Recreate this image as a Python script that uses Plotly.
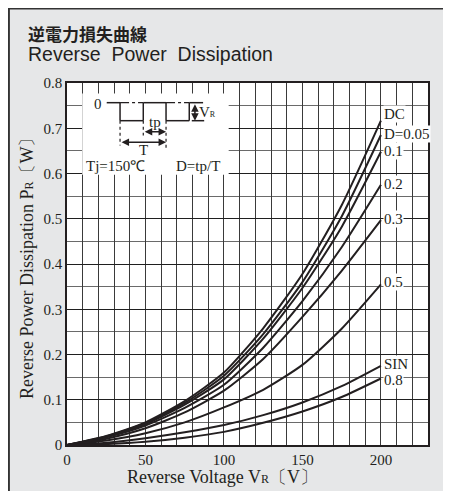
import plotly.graph_objects as go

# ---- data ----
voltage = [0, 25, 50, 75, 100, 125, 150, 175, 200]
p_dc   = [0, 0.020, 0.050, 0.097, 0.160, 0.258, 0.378, 0.530, 0.717]
p_d005 = [0, 0.019, 0.048, 0.093, 0.153, 0.245, 0.360, 0.505, 0.685]
p_d01  = [0, 0.018, 0.046, 0.089, 0.145, 0.235, 0.347, 0.482, 0.648]
p_d02  = [0, 0.017, 0.043, 0.082, 0.133, 0.215, 0.318, 0.437, 0.575]
p_d03  = [0, 0.014, 0.037, 0.072, 0.120, 0.190, 0.283, 0.385, 0.497]
p_d05  = [0, 0.010, 0.026, 0.050, 0.083, 0.122, 0.177, 0.257, 0.355]
p_sin  = [0, 0.005, 0.015, 0.028, 0.044, 0.066, 0.094, 0.130, 0.175]
p_d08  = [0, 0.002, 0.007, 0.016, 0.029, 0.049, 0.074, 0.106, 0.147]

series = [("DC", p_dc), ("D=0.05", p_d005), ("0.1", p_d01), ("0.2", p_d02),
          ("0.3", p_d03), ("0.5", p_d05), ("SIN", p_sin), ("0.8", p_d08)]
label_y = {"DC": 0.732, "D=0.05": 0.688, "0.1": 0.650, "0.2": 0.577,
           "0.3": 0.499, "0.5": 0.360, "SIN": 0.180, "0.8": 0.143}

x_ticks = list(range(0, 231, 10))
x_ticktext = [str(v) if v % 50 == 0 and v <= 200 else "" for v in x_ticks]
y_ticks = [0, 0.1, 0.2, 0.3, 0.4, 0.5, 0.6, 0.7, 0.8]
y_ticktext = ["0", "0.1", "0.2", "0.3", "0.4", "0.5", "0.6", "0.7", "0.8"]

SERIF = "Liberation Serif"
INK = "#231f20"
BG = "#e6e7e8"

W, H = 451, 491
OFF = 8  # page margin offset seen in the reference picture
# plot area in figure pixels
L, R, T, B = 67 - OFF, 428 - OFF, 83 - OFF, 445 - OFF

fig = go.Figure()
for name, vals in series:
    fig.add_trace(go.Scatter(x=voltage, y=vals, mode="lines", name=name,
                             line=dict(color=INK, width=2, shape="spline", smoothing=0.6),
                             showlegend=False, hoverinfo="skip"))

def px(xp):  # reference-picture pixel -> paper x
    return (xp - OFF - L) / (R - L)
def py(yp):
    return (B - (yp - OFF)) / (B - T)

shapes = [
    dict(type="line", xref="paper", yref="paper", x0=px(0), x1=px(470), y0=py(8.6), y1=py(8.6),
         line=dict(color="#333", width=1.8)),
    dict(type="line", xref="paper", yref="paper", x0=px(8.8), x1=px(8.8), y0=py(8), y1=py(520),
         line=dict(color="#333", width=2.2)),
    # inset white box
    dict(type="rect", xref="x", yref="y", x0=9.7, x1=103, y0=0.597, y1=0.777,
         fillcolor="white", line=dict(width=0), layer="above"),
]

# waveform in inset
hi, lo = 0.7565, 0.7167
wl = dict(color=INK, width=1.5)
dl = dict(color=INK, width=1.2, dash="dashdot")
vd = dict(color=INK, width=1.2, dash="dot")
segs = [
    (25.3, hi, 33.8, hi, wl), (33.8, hi, 33.8, lo, wl), (33.8, lo, 48.6, lo, wl),
    (48.6, lo, 48.6, hi, wl), (48.6, hi, 63.1, hi, wl), (63.1, hi, 63.1, lo, wl),
    (63.1, lo, 77.9, lo, wl), (77.9, lo, 77.9, hi, wl), (77.9, hi, 86.7, hi, wl),
    (79.5, lo, 87.4, lo, wl),
    (33.8, hi, 48.6, hi, dl), (63.1, hi, 77.9, hi, dl),
    (33.8, lo, 33.8, 0.662, vd), (48.6, lo, 48.6, 0.684, vd), (63.1, lo, 63.1, 0.652, vd),
]
for x0, y0, x1, y1, ln in segs:
    shapes.append(dict(type="line", xref="x", yref="y", x0=x0, y0=y0, x1=x1, y1=y1,
                       line=ln, layer="above"))

ann = []
# curve labels
for name, vals in series:
    ann.append(dict(x=201.5, y=label_y[name], xref="x", yref="y", text=name, showarrow=False,
                    xanchor="left", yanchor="middle", bgcolor="white", borderpad=0,
                    font=dict(family=SERIF, size=15, color=INK)))
# inset texts
ann += [
    dict(x=20, y=0.754, text="0", showarrow=False, font=dict(family=SERIF, size=15, color=INK)),
    dict(x=83.0, y=0.737, text="V<span style='font-size:8px'>R</span>", showarrow=False,
         xanchor="left", font=dict(family=SERIF, size=15, color=INK)),
    dict(x=56.0, y=0.713, text="tp", showarrow=False, font=dict(family=SERIF, size=15, color=INK)),
    dict(x=48.6, y=0.652, text="T", showarrow=False, font=dict(family=SERIF, size=15, color=INK)),
    dict(x=30.6, y=0.617, text="Tj=150℃", showarrow=False, font=dict(family=SERIF, size=15, color=INK)),
    dict(x=83.7, y=0.617, text="D=tp/T", showarrow=False, font=dict(family=SERIF, size=15, color=INK)),
]
# arrows in inset
def dbl_arrow(x0, y0, x1, y1):
    return [dict(x=x1, y=y1, ax=x0, ay=y0, xref="x", yref="y", axref="x", ayref="y",
                 text="", showarrow=True, arrowhead=2, arrowside="end+start",
                 arrowsize=1, arrowwidth=1.5, arrowcolor=INK)]
ann += dbl_arrow(48.6, 0.692, 63.1, 0.692)
ann += dbl_arrow(33.8, 0.669, 63.1, 0.669)
ann += dbl_arrow(81.5, hi, 81.5, lo)

# titles
ann += [
    dict(x=px(26), y=py(33.5), xref="paper", yref="paper", text="<b>逆電力損失曲線</b>", showarrow=False,
         xanchor="left", yanchor="middle", font=dict(family="Noto Sans CJK JP", size=17, color=INK)),
    dict(x=px(26), y=py(54.5), xref="paper", yref="paper", text="Reverse  Power  Dissipation",
         showarrow=False, xanchor="left", yanchor="middle",
         font=dict(family="Liberation Sans", size=19.5, color=INK)),
    dict(x=px(222), y=py(477), xref="paper", yref="paper",
         text="Reverse Voltage V<span style='font-size:12px'>R</span>〔V〕", showarrow=False,
         xanchor="center", yanchor="middle", font=dict(family=SERIF, size=18, color=INK)),
    dict(x=px(27), y=py(264), xref="paper", yref="paper",
         text="Reverse Power Dissipation P<span style='font-size:12px'>R</span>〔W〕", showarrow=False,
         textangle=-90, xanchor="center", yanchor="middle", font=dict(family=SERIF, size=18, color=INK)),
]

fig.update_layout(
    width=W, height=H,
    margin=dict(l=L, r=W - R, t=T, b=H - B),
    paper_bgcolor=BG, plot_bgcolor="white",
    shapes=shapes, annotations=ann,
    xaxis=dict(range=[0, 230], tickvals=x_ticks, ticktext=x_ticktext, showgrid=True,
               gridcolor="#3a3a3a", gridwidth=1.2, zeroline=False, showline=True, linecolor=INK,
               linewidth=1.5, mirror=True, ticks="", tickfont=dict(family=SERIF, size=15, color=INK)),
    yaxis=dict(range=[0, 0.8], tickvals=y_ticks, ticktext=y_ticktext, showgrid=True,
               gridcolor="#1f1f1f", gridwidth=1.2, zeroline=False, showline=True, linecolor=INK,
               linewidth=1.5, mirror=True, ticks="", tickfont=dict(family=SERIF, size=15, color=INK),
               minor=dict(dtick=0.05, tick0=0, showgrid=True, gridcolor="#6a6a6a", gridwidth=1.2)),
)

fig.write_html("out.html")
